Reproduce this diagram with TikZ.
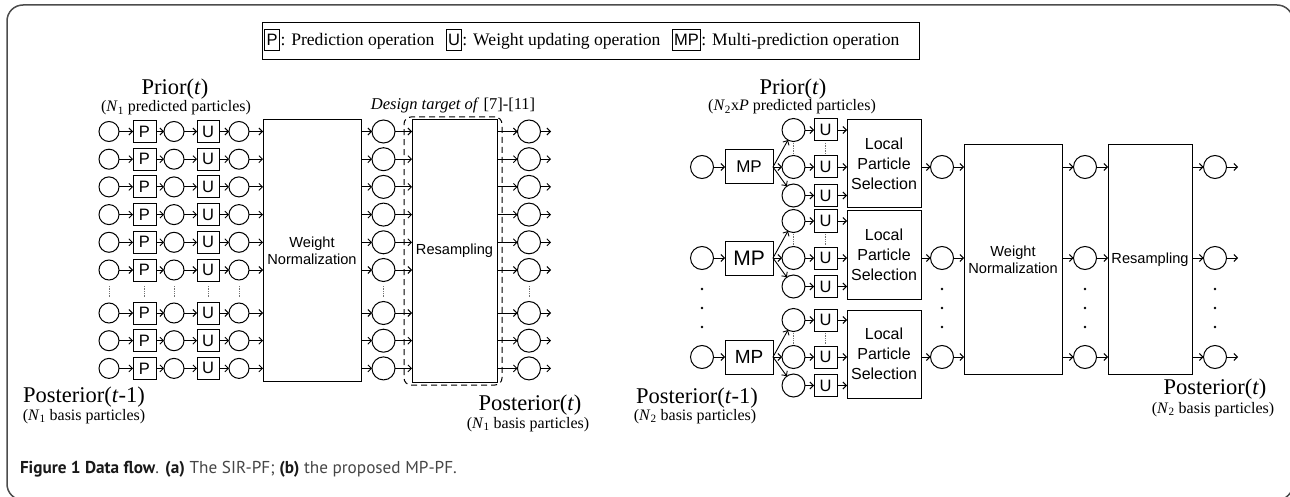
\documentclass[tikz,border=0pt]{standalone}
\usepackage{fontspec}
\setmainfont{Liberation Serif}
\setsansfont{Liberation Sans}
\newfontfamily\capfont{PT Sans}
\usetikzlibrary{arrows.meta}
\definecolor{capgray}{RGB}{70,70,70}
\begin{document}
\begin{tikzpicture}[x=1pt,y=-1pt,
  every node/.style={inner sep=0pt,outer sep=0pt},
  sc/.style={draw,circle,minimum size=20pt,line width=1pt},
  bc/.style={draw,circle,minimum size=23pt,line width=1pt},
  opb/.style={draw,line width=1pt,minimum width=23pt,minimum height=22pt,font=\fontsize{16.5}{17}\sffamily},
  mpb/.style={draw,line width=1pt,minimum width=48pt,minimum height=34pt},
  blk/.style={draw,line width=1pt,align=center,font=\fontsize{14.6}{17}\sffamily},
  lps/.style={draw,line width=1pt,align=center,minimum width=74pt,minimum height=88pt,font=\fontsize{16}{20}\sffamily},
  arr/.style={-{Straight Barb[length=3.5pt,width=7pt]},line width=0.9pt},
  vd/.style={densely dotted,line width=0.7pt,black!55},
  big/.style={anchor=base,font=\fontsize{22.5}{26}\selectfont},
  sml/.style={anchor=base,font=\fontsize{16}{19}\selectfont},
  lgb/.style={draw,line width=0.9pt,minimum width=15pt,minimum height=21pt,font=\fontsize{16.5}{17}\sffamily},
  lgt/.style={anchor=base west,font=\fontsize{17.6}{20}\selectfont},
  frame/.style={line width=1.5pt,black!70,rounded corners=16pt}
]
\useasboundingbox (0,0) rectangle (1290,497);
\draw[frame] (7,5) rectangle (1293,500);

% legend
\node[draw,line width=0.9pt,minimum width=657pt,minimum height=37pt] (leg) at (590.5,40.5) {};
\node[lgb,anchor=west] (lp) at (264.5,40) {P};
\node[lgt] (lpt) at ([xshift=1pt]lp.east |- 0,46) {: Prediction operation};
\node[lgb,anchor=west] (lu) at ([xshift=12pt]lpt.east |- lp) {U};
\node[lgt] (lut) at ([xshift=1pt]lu.east |- 0,46) {: Weight updating operation};
\node[lgb,anchor=west,minimum width=28pt] (lm) at ([xshift=12pt]lut.east |- lp) {MP};
\node[lgt] (lmt) at ([xshift=1pt]lm.east |- 0,46) {: Multi-prediction operation};

% ---------- left diagram ----------
\node[big] (prior1) at (175,95) {Prior(\textit{t})};
\node[sml] (prior1s) at (176,112) {(\textit{N}\textsubscript{1} predicted particles)};
\node[sml,font=\fontsize{16.5}{19}\selectfont] (design) at (453,110) {\textit{Design target of} [7]-[11]};
\node[big] (post0) at (84,402) {Posterior(\textit{t}-1)};
\node[sml] (post0s) at (84,420) {(\textit{N}\textsubscript{1} basis particles)};
\node[big] (post1) at (530,410) {Posterior(\textit{t})};
\node[sml] (post1s) at (528,428) {(\textit{N}\textsubscript{1} basis particles)};

\node[blk,minimum width=98pt,minimum height=261pt] (wn1) at (312,250.5) {Weight\\Normalization};
\node[blk,minimum width=85pt,minimum height=262pt] (rs1) at (454.5,251) {Resampling};
\node[draw,dashed,dash pattern=on 6pt off 4pt,line width=1pt,rounded corners=7pt,minimum width=98pt,minimum height=268pt] (dt) at (453,251) {};

\foreach \i/\y in {1/131.5,2/159.2,3/186.9,4/214.6,5/242.3,6/270,7/313,8/340.7,9/368.4}{
  \node[sc] (a\i) at (109,\y) {};
  \node[opb] (p\i) at (144.5,\y) {P};
  \node[sc] (b\i) at (174,\y) {};
  \node[opb,minimum width=22pt] (u\i) at (208,\y) {U};
  \node[sc] (c\i) at (239,\y) {};
  \node[bc] (d\i) at (383.5,\y) {};
  \node[bc] (e\i) at (529,\y) {};
  \coordinate (f\i) at (551,\y);
  \draw[arr] (a\i) -- (p\i);
  \draw[arr] (p\i) -- (b\i);
  \draw[arr] (b\i) -- (u\i);
  \draw[arr] (u\i) -- (c\i);
  \draw[arr] (c\i) -- (c\i -| wn1.west);
  \draw[arr] (wn1.east |- d\i) -- (d\i);
  \draw[arr] (d\i) -- (d\i -| rs1.west);
  \draw[arr] (rs1.east |- e\i) -- (e\i);
  \draw[arr] (e\i) -- (f\i);
}
\foreach \x in {109,144.5,174,208,239,383.5,529} \draw[vd] (\x,286) -- (\x,297);

% ---------- right diagram ----------
\node[big] (prior2) at (793,95) {Prior(\textit{t})};
\node[sml] (prior2s) at (792,111) {(\textit{N}\textsubscript{2}x\textit{P} predicted particles)};
\node[big] (post2) at (697,403) {Posterior(\textit{t}-1)};
\node[sml] (post2s) at (695,420) {(\textit{N}\textsubscript{2} basis particles)};
\node[big] (post3) at (1215,394) {Posterior(\textit{t})};
\node[sml] (post3s) at (1213,413) {(\textit{N}\textsubscript{2} basis particles)};

\node[blk,minimum width=98pt,minimum height=229pt] (wn2) at (1013,259.5) {Weight\\Normalization};
\node[blk,minimum width=84pt,minimum height=229pt] (rs2) at (1150,259.5) {Resampling};

\foreach \g/\c/\fs in {1/167/17,2/258/21,3/357/19}{
  \node[bc] (in\g) at (702,\c) {};
  \node[mpb,font=\fontsize{\fs}{\fs}\sffamily] (mp\g) at (749,\c) {MP};
  \node[bc] (t\g) at ({793.5},{\c-37}) {};
  \node[bc] (m\g) at (793.5,\c) {};
  \node[bc] (b\g) at ({793.5},{\c+28.5}) {};
  \node[opb] (ut\g) at ({825.5},{\c-37}) {U};
  \node[opb] (um\g) at (825.5,\c) {U};
  \node[opb] (ub\g) at ({825.5},{\c+28.5}) {U};
  \node[lps] (ls\g) at ({884},{\c-3}) {Local\\Particle\\Selection};
  \node[bc] (o\g) at (942,\c) {};
  \node[bc] (q\g) at (1085,\c) {};
  \node[bc] (r\g) at (1215,\c) {};
  \coordinate (z\g) at (1238,\c);
  \draw[arr] (in\g) -- (mp\g);
  \draw[arr] (mp\g.east) -- (t\g);
  \draw[arr] (mp\g.east) -- (m\g);
  \draw[arr] (mp\g.east) -- (b\g);
  \draw[arr] (t\g) -- (ut\g);
  \draw[arr] (m\g) -- (um\g);
  \draw[arr] (b\g) -- (ub\g);
  \draw[arr] (ut\g) -- (ut\g -| ls\g.west);
  \draw[arr] (um\g) -- (um\g -| ls\g.west);
  \draw[arr] (ub\g) -- (ub\g -| ls\g.west);
  \draw[arr] (ls\g.east |- o\g) -- (o\g);
  \draw[arr] (o\g) -- (o\g -| wn2.west);
  \draw[arr] (wn2.east |- q\g) -- (q\g);
  \draw[arr] (q\g) -- (q\g -| rs2.west);
  \draw[arr] (rs2.east |- r\g) -- (r\g);
  \draw[arr] (r\g) -- (z\g);
  \draw[vd] ({793.5},{\c-24}) -- ({793.5},{\c-13});
  \draw[vd] ({825.5},{\c-24}) -- ({825.5},{\c-13});
}
\foreach \x in {702,942,1085,1215} \foreach \y in {289,308,327} \fill (\x,\y) circle (1.4pt);

% caption
\node[anchor=base west,font=\capfont\fontsize{17.2}{20}\selectfont,text=capgray] (cap) at (20,473)
  {\textcolor{black!90}{\textbf{Figure 1 Data flow}}. \textcolor{black!90}{\textbf{(a)}} The SIR-PF; \textcolor{black!90}{\textbf{(b)}} the proposed MP-PF.};
\end{tikzpicture}
\end{document}
